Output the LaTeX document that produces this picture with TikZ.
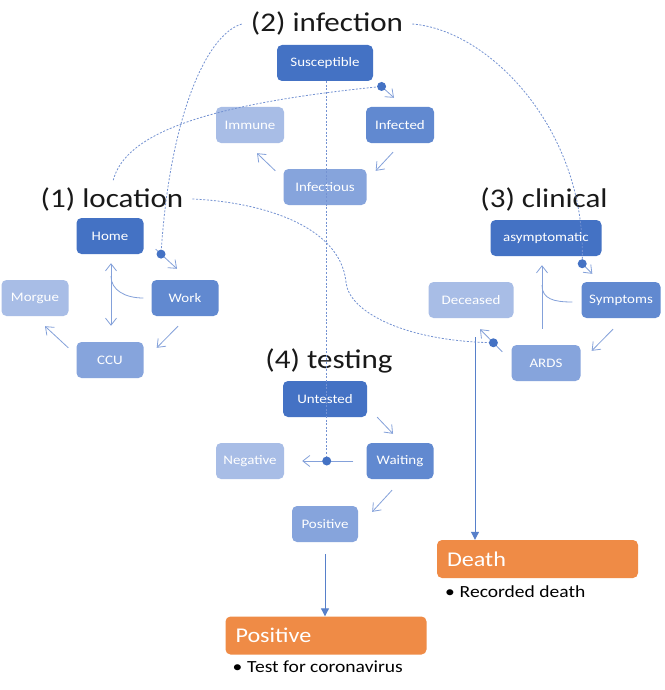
\documentclass[tikz,border=0pt]{standalone}
\usepackage{fontspec}
\setmainfont{Carlito}[FakeStretch=1.15]
\usetikzlibrary{arrows.meta,positioning}
\definecolor{tone1}{HTML}{4472C4}
\definecolor{tone2}{HTML}{6189D0}
\definecolor{tone3}{HTML}{86A4DC}
\definecolor{tone4}{HTML}{A8BDE6}
\definecolor{wire}{HTML}{84A1DA}
\definecolor{cue}{HTML}{7492D2}
\definecolor{outc}{HTML}{EF8B46}
\tikzset{
  state/.style={rounded corners=5pt, text=white, align=center, font=\fontsize{13}{15}\selectfont, minimum width=68pt, minimum height=36pt, inner xsep=4pt},
  grouplbl/.style={font=\fontsize{27}{30}\selectfont, text=black!90, inner xsep=9pt, inner ysep=2pt, anchor=base},
  cyc/.style={->, wire, line width=0.8pt},
  drop/.style={-{Triangle[length=8pt,width=8pt]}, tone1!90, line width=1pt},
  hint/.style={cue, line width=0.8pt, dash pattern=on 2pt off 1.6pt},
  dot/.style={circle, fill=tone1, inner sep=0pt, minimum size=9pt},
  outcome/.style={fill=outc, rounded corners=5pt, text=white, font=\fontsize{21}{24}\selectfont, minimum height=38pt, minimum width=201pt, text width=181pt, inner xsep=10pt, align=left},
  note/.style={font=\fontsize{17}{20}\selectfont, anchor=base west, inner sep=0pt},
}

\begin{document}
\begin{tikzpicture}[x=1pt, y=-1pt, node distance=62pt and 75pt, on grid, >={Straight Barb[length=7pt,width=11pt]}]
    \path[use as bounding box, fill=white] (0,0) rectangle (664,690);

    % (2) infection
    \node[grouplbl] (tinf) at (327,32) {(2) infection};
    \node[state, fill=tone1, minimum width=96pt] (susc) at (325,63) {Susceptible};
    \node[state, fill=tone2, below right=of susc] (infd) {Infected};
    \node[state, fill=tone4, below left=of susc] (immune) {Immune};
    \node[state, fill=tone3, minimum width=83pt, below=124pt of susc] (infs) {Infectious};

    % (1) location
    \node[grouplbl] (tloc) at (112,207) {(1) location};
    \node[state, fill=tone1, minimum width=67pt] (home) at (110,236) {Home};
    \node[state, fill=tone2, minimum width=67pt, below right=of home] (work) {Work};
    \node[state, fill=tone4, minimum width=67pt, below left=of home] (morgue) {Morgue};
    \node[state, fill=tone3, minimum width=67pt, below=124pt of home] (ccu) {CCU};

    % (3) clinical
    \node[grouplbl] (tcli) at (544,207) {(3) clinical};
    \node[state, fill=tone1, minimum width=111pt] (asym) at (546,238) {asymptomatic};
    \node[state, fill=tone2, minimum width=79pt, below right=of asym] (symp) {Symptoms};
    \node[state, fill=tone4, minimum width=85pt, below left=of asym] (dec) {Deceased};
    \node[state, fill=tone3, minimum width=69pt, below=125pt of asym] (ards) {ARDS};

    % (4) testing
    \node[grouplbl] (ttest) at (329,368) {(4) testing};
    \node[state, fill=tone1, minimum width=84pt] (untested) at (325,399) {Untested};
    \node[state, fill=tone2, minimum width=67pt, below right=of untested] (waiting) {Waiting};
    \node[state, fill=tone4, below left=of untested] (negative) {Negative};
    \node[state, fill=tone3, minimum width=66pt, below=125pt of untested] (posit) {Positive};

    % outcomes
    \node[outcome] (death) at (537.5,559) {Death};
    \node[note] (deathnote) at ([shift={(8,19)}]death.south west) {\textbullet\hspace{5pt}Recorded death};
    \node[outcome] (posbox) at (326,635.5) {Positive};
    \node[note] (posnote) at ([shift={(7,18)}]posbox.south west) {\textbullet\hspace{5pt}Test for coronavirus};

    % cycles
    \draw[cyc] ([shift={(7,4)}]susc.south east) -- node[dot, pos=0.1] (dinf) {} ([shift={(-6,-9)}]infd.north);
    \draw[cyc] ([shift={(-7,9)}]infd.south) -- ([shift={(9,2)}]infs.north east);
    \draw[cyc] ([shift={(-8,2)}]infs.north west) -- ([shift={(7,10)}]immune.south);

    \draw[cyc] ([shift={(12,-5)}]home.south east) -- node[dot, pos=0.25] (dloc) {} ([shift={(-8,-11)}]work.north);
    \draw[cyc] ([shift={(-7,10)}]work.south) -- ([shift={(13,6)}]ccu.north east);
    \draw[cyc] ([shift={(-8,6)}]ccu.north west) -- ([shift={(10,10)}]morgue.south);
    \draw[cyc, <->] ([shift={(1,9)}]home.south) -- ([shift={(1,-16)}]ccu.north);
    \draw[cyc, -] ([xshift=-8pt]work.west) .. controls +(-18,0) and +(0,14) .. ([shift={(1,22)}]home.south);

    \draw[cyc] ([shift={(-22,5)}]asym.south east) -- node[dot, pos=0.2] (dcli) {} ([shift={(11,-8)}]symp.north west);
    \draw[cyc] ([shift={(-8,11)}]symp.south) -- ([shift={(11,6)}]ards.north east);
    \draw[cyc] ([shift={(-4,-16)}]ards.north) -- ([shift={(-4,9)}]asym.south);
    \draw[cyc, -] ([shift={(-9,2)}]symp.west) .. controls +(-18,0) and +(0,14) .. ([shift={(-4,29)}]asym.south);
    \draw[cyc] ([shift={(-9,7)}]ards.north west) -- node[dot, pos=0.4] (dcli2) {} ([shift={(9,11)}]dec.south);

    \draw[cyc] ([shift={(10,0)}]untested.south east) -- ([shift={(-7,-9)}]waiting.north);
    \draw[cyc] ([xshift=-13pt]waiting.west) -- node[dot, pos=0.52] (dtest) {} ([xshift=18pt]negative.east);
    \draw[cyc] ([shift={(-8,11)}]waiting.south) -- ([shift={(14,6)}]posit.north east);

    % to the outcomes
    \draw[drop, shorten <=12pt] (posit.south) -- (posit.south |- posbox.north);
    \draw[drop, shorten <=19pt] ([xshift=4pt]dec.south) -- ([xshift=4pt]dec.south |- death.north);

    % links between the four groups
    \draw[hint] (tinf.west) .. controls (205,35) and (170,120) .. (dloc);
    \draw[hint] (tinf.east) .. controls (490,30) and (585,130) .. (dcli);
    \draw[hint, shorten <=5pt] (tloc.north) .. controls (125,135) and (200,105) .. (dinf);
    \draw[hint] (dtest |- susc.south) -- (dtest);
    \coordinate (bend) at (346,282);
    \draw[hint] (tloc.east) .. controls (260,202) and (340,225) .. (bend) .. controls (348,310) and (400,340) .. (dcli2);
\end{tikzpicture}
\end{document}
